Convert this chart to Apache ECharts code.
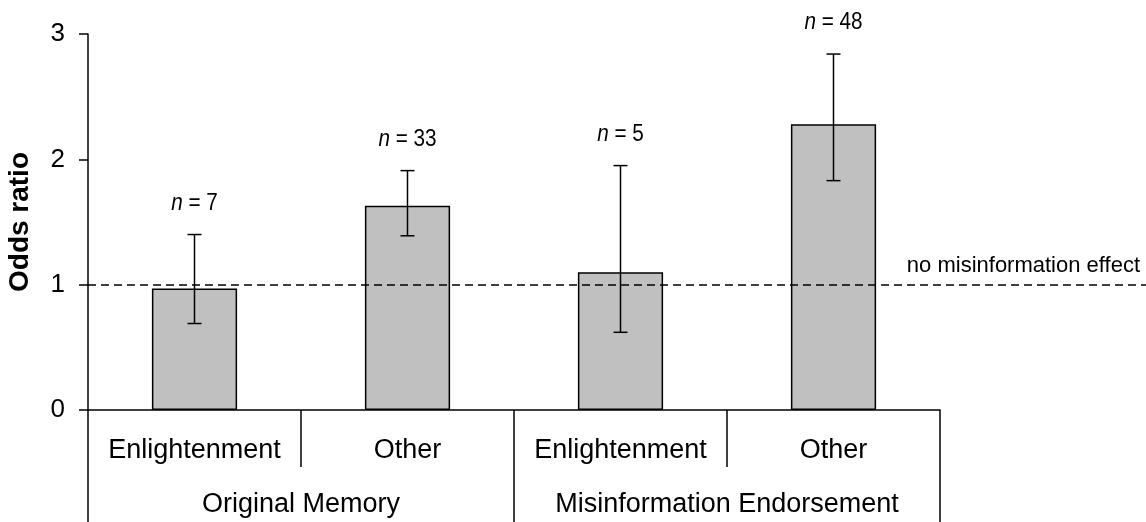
<!DOCTYPE html>
<html>
<head>
<meta charset="utf-8">
<script src="https://cdn.jsdelivr.net/npm/echarts@6/dist/echarts.min.js"></script>
<style>
  html, body { margin: 0; padding: 0; background: #fff; }
  #chart { width: 1146px; height: 522px; }
</style>
</head>
<body>
<div id="chart"></div>
<script>
// Odds ratios by group, with confidence intervals and sample sizes
const subCategories = ['Enlightenment', 'Other', 'Enlightenment', 'Other'];
const groupCategories = ['Original Memory', 'Misinformation Endorsement'];
const oddsRatio = [0.97, 1.63, 1.10, 2.28];
const ciLower = [0.69, 1.39, 0.62, 1.83];
const ciUpper = [1.40, 1.91, 1.95, 2.84];
const sampleN = [7, 33, 5, 48];
const referenceValue = 1;
const referenceLabel = 'no misinformation effect';
const yTicks = { min: 0, max: 3, interval: 1 };

const FONT = '"Liberation Sans", Arial, sans-serif';
const LINE_W = 1.5;

const chart = echarts.init(document.getElementById('chart'), null, { renderer: 'canvas' });

const errorData = oddsRatio.map((v, i) => [i, ciLower[i], ciUpper[i], sampleN[i]]);

const option = {
  animation: false,
  backgroundColor: '#ffffff',
  grid: [
    { left: 88, right: 206, top: 34, bottom: 112, containLabel: false, outerBoundsMode: 'none' },
    { left: 88, right: 0, top: 34, bottom: 112, containLabel: false, outerBoundsMode: 'none' }
  ],
  xAxis: [
    {
      type: 'category',
      gridIndex: 0,
      data: subCategories,
      position: 'bottom',
      axisLine: { show: true, lineStyle: { color: '#000', width: LINE_W } },
      axisTick: { show: true, length: 57, interval: 0, alignWithLabel: false, lineStyle: { color: '#000', width: LINE_W } },
      axisLabel: { color: '#000', fontFamily: FONT, fontSize: 27, margin: 27, interval: 0, hideOverlap: false },
      splitLine: { show: false }
    },
    {
      type: 'category',
      gridIndex: 0,
      data: groupCategories,
      position: 'bottom',
      offset: 0,
      axisLine: { show: false },
      axisTick: { show: true, length: 112, interval: 0, alignWithLabel: false, lineStyle: { color: '#000', width: LINE_W } },
      axisLabel: { color: '#000', fontFamily: FONT, fontSize: 27, margin: 81, interval: 0, hideOverlap: false },
      splitLine: { show: false }
    },
    {
      type: 'value',
      gridIndex: 1,
      min: 0,
      max: 1,
      show: false
    }
  ],
  yAxis: [
    {
      type: 'value',
      gridIndex: 0,
      min: yTicks.min,
      max: yTicks.max,
      interval: yTicks.interval,
      name: 'Odds ratio',
      nameLocation: 'middle',
      nameRotate: 90,
      nameGap: 54,
      nameTextStyle: { color: '#000', fontFamily: FONT, fontSize: 28, fontWeight: 'bold' },
      axisLine: { show: true, lineStyle: { color: '#000', width: LINE_W } },
      axisTick: { show: true, inside: false, length: 9, lineStyle: { color: '#000', width: LINE_W } },
      axisLabel: { color: '#000', fontFamily: FONT, fontSize: 26, margin: 23 },
      splitLine: { show: false }
    },
    {
      type: 'value',
      gridIndex: 1,
      min: yTicks.min,
      max: yTicks.max,
      show: false
    }
  ],
  series: [
    {
      // horizontal reference line at OR = 1, spanning past the bars
      type: 'line',
      xAxisIndex: 2,
      yAxisIndex: 1,
      data: [],
      symbol: 'none',
      silent: true,
      z: 5,
      markLine: {
        silent: true,
        symbol: 'none',
        animation: false,
        lineStyle: { color: '#000', width: LINE_W, type: [8, 5] },
        data: [{ yAxis: referenceValue }],
        label: {
          show: true,
          position: 'insideEndTop',
          distance: [6, 8],
          formatter: referenceLabel,
          color: '#000',
          fontFamily: FONT,
          fontSize: 22
        }
      }
    },
    {
      type: 'bar',
      xAxisIndex: 0,
      yAxisIndex: 0,
      data: oddsRatio,
      barWidth: '40%',
      z: 2,
      itemStyle: { color: '#c0c0c0', borderColor: '#000', borderWidth: LINE_W }
    },
    {
      // confidence interval whiskers with sample size above
      type: 'custom',
      xAxisIndex: 0,
      yAxisIndex: 0,
      data: errorData,
      z: 6,
      renderItem: function (params, api) {
        const x = api.value(0);
        const lo = api.coord([x, api.value(1)]);
        const hi = api.coord([x, api.value(2)]);
        const n = api.value(3);
        const cap = 7;
        const style = { stroke: '#000', lineWidth: LINE_W, fill: null };
        return {
          type: 'group',
          children: [
            { type: 'line', shape: { x1: hi[0], y1: hi[1], x2: lo[0], y2: lo[1] }, style: style },
            { type: 'line', shape: { x1: hi[0] - cap, y1: hi[1], x2: hi[0] + cap, y2: hi[1] }, style: style },
            { type: 'line', shape: { x1: lo[0] - cap, y1: lo[1], x2: lo[0] + cap, y2: lo[1] }, style: style },
            {
              type: 'text',
              x: hi[0],
              y: hi[1] - 31,
              scaleX: 0.9,
              style: {
                text: '{i|n} = ' + n,
                align: 'center',
                verticalAlign: 'middle',
                fill: '#000',
                fontFamily: FONT,
                fontSize: 23,
                rich: {
                  i: { fontStyle: 'italic', fontFamily: FONT, fontSize: 23, fill: '#000' }
                }
              }
            }
          ]
        };
      }
    }
  ]
};

chart.setOption(option);
</script>
</body>
</html>
